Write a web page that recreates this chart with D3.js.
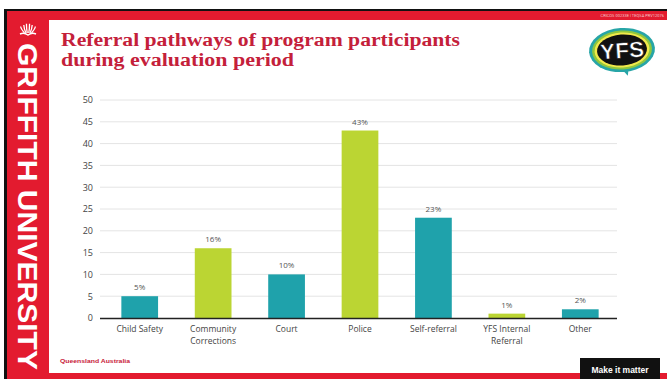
<!DOCTYPE html>
<html>
<head>
<meta charset="utf-8">
<script src="https://cdn.jsdelivr.net/npm/d3@7"></script>
<style>
  html, body { margin: 0; padding: 0; background: #fff; }
  svg { display: block; }
</style>
</head>
<body>
<script>
// Referral pathways data (percent of participants)
const categories = [
  ["Child Safety"],
  ["Community", "Corrections"],
  ["Court"],
  ["Police"],
  ["Self-referral"],
  ["YFS Internal", "Referral"],
  ["Other"]
];
const values = [5, 16, 10, 43, 23, 1, 2];
const barColors = ["#1fa2ab", "#bbd533", "#1fa2ab", "#bbd533", "#1fa2ab", "#bbd533", "#1fa2ab"];
const yTicks = [0, 5, 10, 15, 20, 25, 30, 35, 40, 45, 50];
const titleLines = ["Referral pathways of program participants", "during evaluation period"];

const W = 667, H = 379;
const red = "#e31b2f";

const svg = d3.select("body").append("svg")
  .attr("width", W).attr("height", H);

// Slide frame
svg.append("rect").attr("x", 0).attr("y", 0).attr("width", W).attr("height", H).attr("fill", "#fff");
svg.append("rect").attr("x", 4).attr("y", 9).attr("width", W - 4).attr("height", H - 9).attr("fill", "#111");
svg.append("rect").attr("x", 7).attr("y", 11).attr("width", W - 7).attr("height", H - 11).attr("fill", red);
svg.append("rect").attr("x", 49).attr("y", 20).attr("width", W - 49).attr("height", 353).attr("fill", "#fff");

// Top-right registration text
svg.append("text").attr("x", 664).attr("y", 17).attr("text-anchor", "end")
  .attr("font-family", "Roboto, sans-serif").attr("font-size", 4).attr("fill", "#f6c9cd")
  .text("CRICOS 00233E | TEQSA PRV12076");

// University crest (stylised book and flame)
const crest = svg.append("g").attr("transform", "translate(28,29)").attr("fill", "none").attr("stroke", "#fff").attr("stroke-width", 1.3);
[-7, -4, -1.5, 1.5, 4, 7].forEach(dx => {
  crest.append("path").attr("d", `M${dx * 0.5},4 Q${dx},0 ${dx * 1.05},${-6 + Math.abs(dx) * 0.5}`);
});
crest.append("path").attr("d", "M-8,5 Q-4,3 0,6 Q4,3 8,5").attr("stroke-width", 1.5);

// Vertical university name
svg.append("text")
  .attr("transform", "translate(18,43) rotate(90)")
  .attr("font-family", "Liberation Sans, Arial, sans-serif").attr("font-weight", "bold")
  .attr("font-size", 28).attr("fill", "#fff").attr("textLength", 327).attr("lengthAdjust", "spacingAndGlyphs")
  .text("GRIFFITH UNIVERSITY");

// Title
titleLines.forEach((t, i) => {
  svg.append("text").attr("font-family", "Liberation Serif, serif").attr("font-weight", "bold")
    .attr("font-size", 18).attr("fill", "#c4203a")
    .attr("x", 61).attr("y", 45.5 + i * 20)
    .attr("textLength", i === 0 ? 399 : 233).attr("lengthAdjust", "spacingAndGlyphs").text(t);
});

// YFS badge
const logo = svg.append("g").attr("transform", "translate(622,50) rotate(-4)");
logo.append("path").attr("d", "M-4,16 L4,26 L6,15 Z").attr("fill", "#27a5a7");
logo.append("ellipse").attr("rx", 33).attr("ry", 22).attr("fill", "#27a5a7");
logo.append("ellipse").attr("rx", 30).attr("ry", 19.5).attr("fill", "#8fc63f");
logo.append("ellipse").attr("rx", 27.5).attr("ry", 17.5).attr("fill", "#f1e94a");
logo.append("ellipse").attr("rx", 25).attr("ry", 15.5).attr("fill", "#111");
logo.append("text").attr("text-anchor", "middle").attr("y", 8)
  .attr("font-family", "Liberation Sans, Arial, sans-serif").attr("font-weight", "bold").attr("font-size", 22)
  .attr("fill", "#fff").attr("stroke", "#111").attr("stroke-width", 0.6)
  .attr("textLength", 44).attr("lengthAdjust", "spacingAndGlyphs").text("YFS");

// Chart
const x = d3.scaleBand().domain(d3.range(categories.length)).range([103, 617]).paddingInner(0.5).paddingOuter(0.25);
const y = d3.scaleLinear().domain([0, 50]).range([318, 100]);

const grid = svg.append("g");
grid.selectAll("line").data(yTicks.filter(d => d > 0)).join("line")
  .attr("x1", 100).attr("x2", 617).attr("y1", d => y(d)).attr("y2", d => y(d))
  .attr("stroke", "#e4e4e4").attr("stroke-width", 1);

const yAxis = svg.append("g").attr("transform", "translate(100,0)")
  .call(d3.axisLeft(y).tickValues(yTicks).tickSize(0).tickPadding(7));
yAxis.select(".domain").remove();
yAxis.selectAll("text").attr("font-family", "Open Sans, sans-serif").attr("font-size", 9).attr("fill", "#444");

svg.selectAll("rect.bar").data(values).join("rect").attr("class", "bar")
  .attr("x", (d, i) => x(i)).attr("width", x.bandwidth())
  .attr("y", d => y(d)).attr("height", d => y(0) - y(d))
  .attr("fill", (d, i) => barColors[i]);

svg.selectAll("text.val").data(values).join("text").attr("class", "val")
  .attr("x", (d, i) => x(i) + x.bandwidth() / 2).attr("y", d => y(d) - 6)
  .attr("text-anchor", "middle").attr("font-family", "Open Sans, sans-serif").attr("font-size", 8).attr("fill", "#555")
  .text(d => d + "%");

const xAxis = svg.append("g").attr("transform", "translate(0,318)")
  .call(d3.axisBottom(x).tickSize(0).tickFormat(""));
xAxis.select(".domain").attr("d", "M100,0.5H617").attr("stroke", "#222").attr("stroke-width", 1.3);

svg.selectAll("text.cat").data(categories).join("text").attr("class", "cat")
  .attr("font-family", "Open Sans, sans-serif").attr("font-size", 8.5).attr("fill", "#444")
  .attr("text-anchor", "middle")
  .each(function (lines, i) {
    const t = d3.select(this);
    lines.forEach((ln, j) => {
      t.append("tspan").attr("x", x(i) + x.bandwidth() / 2).attr("y", 332 + j * 12).text(ln);
    });
  });

// Footer
svg.append("text").attr("x", 60).attr("y", 363)
  .attr("font-family", "Liberation Sans, Arial, sans-serif").attr("font-weight", "bold").attr("font-size", 6)
  .attr("fill", "#c8203a").attr("textLength", 70).attr("lengthAdjust", "spacingAndGlyphs").text("Queensland Australia");

svg.append("rect").attr("x", 580).attr("y", 358).attr("width", 80).attr("height", 21).attr("fill", "#111");
svg.append("text").attr("x", 620).attr("y", 373).attr("text-anchor", "middle")
  .attr("font-family", "Liberation Sans, Arial, sans-serif").attr("font-weight", "bold").attr("font-size", 8.5)
  .attr("fill", "#fff").text("Make it matter");
</script>
</body>
</html>
